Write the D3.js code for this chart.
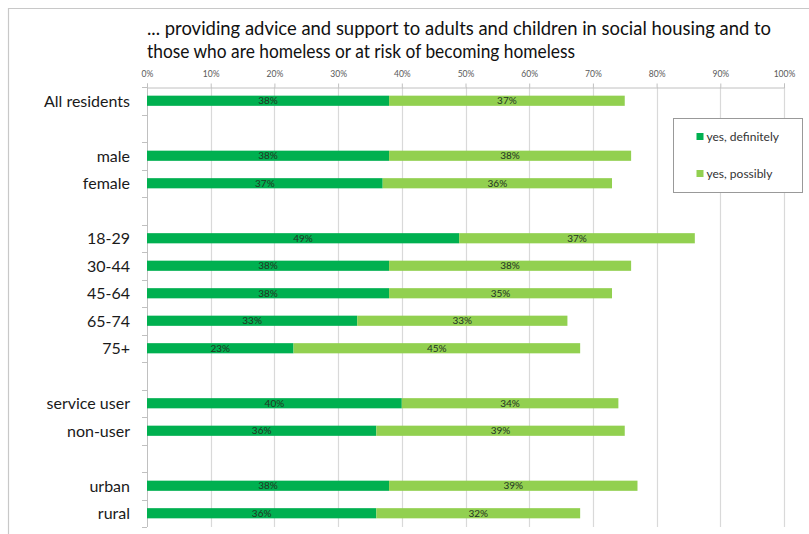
<!DOCTYPE html>
<html>
<head>
<meta charset="utf-8">
<script src="https://cdn.jsdelivr.net/npm/d3@7"></script>
<style>
  html, body { margin: 0; padding: 0; background: #fff; }
  svg { display: block; }
  text { font-family: Lato, "Open Sans", sans-serif; }
</style>
</head>
<body>
<svg id="chart" width="809" height="534"></svg>
<script>
// Rows of the chart; null marks an empty spacer row between groups
const rows = ["All residents", null, "male", "female", null,
  "18-29", "30-44", "45-64", "65-74", "75+", null,
  "service user", "non-user", null, "urban", "rural"];
const categories = rows.filter(r => r !== null);
const definitely = [38, 38, 37, 49, 38, 38, 33, 23, 40, 36, 38, 36];
const possibly   = [37, 38, 36, 37, 38, 35, 33, 45, 34, 39, 39, 32];
const seriesNames = ["yes, definitely", "yes, possibly"];
const colors = ["#00b050", "#92d050"];
const xTicks = [0, 10, 20, 30, 40, 50, 60, 70, 80, 90, 100];
const titleLines = [
  "... providing advice and support to adults and children in social housing and to",
  "those who are homeless or at risk of becoming homeless"
];

const svg = d3.select("#chart");
const W = 809, H = 534;
const plot = { left: 147, right: 784, top: 87, bottom: 527 };

// chart-area frame (top and left edges visible)
svg.append("path")
  .attr("d", `M8.5,${H} V8.5 H${W}`)
  .attr("fill", "none").attr("stroke", "#c8c8c8").attr("stroke-width", 1.2);

const x = d3.scaleLinear().domain([0, 100]).range([plot.left, plot.right]);
const y = d3.scaleBand().domain(d3.range(rows.length))
  .range([plot.top, plot.bottom]).paddingInner(0.63).paddingOuter(0.315);

// title
svg.append("g").selectAll("text").data(titleLines).join("text")
  .attr("x", plot.left).attr("y", (d, i) => 35 + i * 23)
  .attr("font-size", 18.5).attr("fill", "#111")
  .attr("textLength", (d, i) => i === 0 ? 624 : 428)
  .attr("lengthAdjust", "spacingAndGlyphs")
  .text(d => d);

// vertical gridlines
svg.append("g").selectAll("line").data(xTicks.slice(1)).join("line")
  .attr("x1", d => Math.round(x(d)) + 0.5).attr("x2", d => Math.round(x(d)) + 0.5)
  .attr("y1", plot.top).attr("y2", plot.bottom)
  .attr("stroke", "#d9d9d9").attr("stroke-width", 1.2);

// top axis
const xAxis = d3.axisTop(x).tickValues(xTicks).tickFormat(d => d + "%").tickSize(4).tickPadding(7);
const gx = svg.append("g").attr("transform", `translate(0,${plot.top + 0.5})`).call(xAxis);
gx.select(".domain").attr("stroke", "#c0c0c0");
gx.selectAll(".tick line").attr("stroke", "#c0c0c0");
gx.selectAll(".tick text").attr("font-size", 9.5).attr("fill", "#595959")
  .attr("font-family", "Lato, sans-serif").attr("transform", "scale(0.9,1)");

// left axis line with tick marks at row boundaries
const gy = svg.append("g");
gy.append("line").attr("x1", plot.left + 0.5).attr("x2", plot.left + 0.5)
  .attr("y1", plot.top).attr("y2", plot.bottom).attr("stroke", "#c0c0c0");
gy.selectAll("line.tk").data(d3.range(rows.length + 1)).join("line").attr("class", "tk")
  .attr("x1", plot.left - 5).attr("x2", plot.left)
  .attr("y1", d => Math.round(plot.top + d * y.step()) + 0.5)
  .attr("y2", d => Math.round(plot.top + d * y.step()) + 0.5)
  .attr("stroke", "#c0c0c0");

// category labels
const rowIndex = categories.map(c => rows.indexOf(c));
svg.append("g").selectAll("text").data(categories).join("text")
  .attr("x", 130).attr("y", (d, i) => y(rowIndex[i]) + y.bandwidth() / 2)
  .attr("dy", "0.36em").attr("text-anchor", "end")
  .attr("font-size", 16).attr("fill", "#1a1a1a")
  .text(d => d);

// stacked bars
const data = categories.map((c, i) => ({ c, row: rowIndex[i], vals: [definitely[i], possibly[i]] }));
const bars = svg.append("g");
data.forEach(d => {
  let acc = 0;
  d.vals.forEach((v, k) => {
    const x0 = acc, x1 = acc + v;
    bars.append("rect")
      .attr("x", x(x0)).attr("width", x(x1) - x(x0))
      .attr("y", y(d.row)).attr("height", y.bandwidth())
      .attr("fill", colors[k]);
    bars.append("text")
      .attr("x", (x(x0) + x(x1)) / 2).attr("y", y(d.row) + y.bandwidth() / 2)
      .attr("dy", "0.36em").attr("text-anchor", "middle")
      .attr("font-size", 10).attr("fill", "#233323")
      .text(v + "%");
    acc = x1;
  });
});

// legend
const lg = svg.append("g").attr("transform", "translate(673.5,118.5)");
lg.append("rect").attr("width", 129).attr("height", 74)
  .attr("fill", "#fff").attr("stroke", "#999");
seriesNames.forEach((n, k) => {
  const yy = 18 + k * 37;
  lg.append("rect").attr("x", 23).attr("y", yy - 3.5).attr("width", 7).attr("height", 7)
    .attr("fill", colors[k]);
  lg.append("text").attr("x", 33).attr("y", yy).attr("dy", "0.35em")
    .attr("font-size", 12).attr("fill", "#333").text(n);
});
</script>
</body>
</html>
